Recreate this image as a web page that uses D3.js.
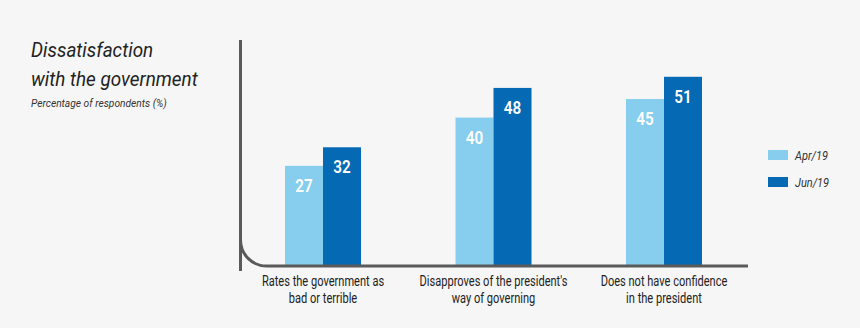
<!DOCTYPE html>
<html>
<head>
<meta charset="utf-8">
<script src="https://cdn.jsdelivr.net/npm/d3@7"></script>
<style>
  html, body { margin: 0; padding: 0; background: #f6f6f6; }
  svg { display: block; }
  text { font-family: Roboto, "DejaVu Sans", sans-serif; }
</style>
</head>
<body>
<div id="chart"></div>
<script>
// survey data
var categories = [
  ["Rates the government as", "bad or terrible"],
  ["Disapproves of the president's", "way of governing"],
  ["Does not have confidence", "in the president"]
];
var seriesNames = ["Apr/19", "Jun/19"];
var apr19 = [27, 40, 45];
var jun19 = [32, 48, 51];
var colors = ["#86cdee", "#0569b3"];

var width = 860, height = 328;
var baseY = 266;
var barW = 38;

var svg = d3.select("#chart").append("svg")
    .attr("width", width)
    .attr("height", height);

svg.append("rect").attr("width", width).attr("height", height).attr("fill", "#f6f6f6");

// narrow text: Roboto squeezed horizontally
function squeezed(parent, x, y, sx, str) {
  return parent.append("text")
      .attr("transform", "translate(" + x + "," + y + ") scale(" + sx + ",1)")
      .text(str);
}

// title block
["Dissatisfaction", "with the government"].forEach(function(t, i) {
  squeezed(svg, 31, 57 + i * 29, 0.9, t)
      .attr("font-style", "italic")
      .attr("font-size", 21)
      .attr("fill", "#222");
});
squeezed(svg, 31, 107, 0.93, "Percentage of respondents (%)")
    .attr("font-style", "italic")
    .attr("font-size", 11)
    .attr("fill", "#333");

// scales
var x = d3.scalePoint()
    .domain(d3.range(categories.length))
    .range([323, 664]);
var y = d3.scaleLinear().domain([0, 60]).range([baseY, baseY - 60 * 3.71]);

var data = categories.map(function(c, i) { return [apr19[i], jun19[i]]; });

// bars
var groups = svg.selectAll(".grp").data(data).enter().append("g")
    .attr("class", "grp")
    .attr("transform", function(d, i) { return "translate(" + x(i) + ",0)"; });

groups.selectAll("rect").data(function(d) { return d; }).enter().append("rect")
    .attr("x", function(d, j) { return (j - 1) * barW; })
    .attr("y", function(d) { return y(d); })
    .attr("width", barW)
    .attr("height", function(d) { return y(0) - y(d); })
    .attr("fill", function(d, j) { return colors[j]; });

groups.each(function(d) {
  var g = d3.select(this);
  d.forEach(function(v, j) {
    squeezed(g, (j - 0.5) * barW, y(v) + 26, 0.85, v)
        .attr("text-anchor", "middle")
        .attr("font-weight", 600)
        .attr("font-size", 18)
        .attr("fill", "#fff");
  });
});

// axis with rounded corner
var r = 26, ax = 240.5;
svg.append("path")
    .attr("d", "M" + ax + ",40 V" + (baseY - r) + " A" + r + "," + r + " 0 0 0 " + (ax + r) + "," + baseY + " H748")
    .attr("fill", "none")
    .attr("stroke", "#5a5a5a")
    .attr("stroke-width", 3);
svg.append("line")
    .attr("x1", ax).attr("x2", ax)
    .attr("y1", baseY - r).attr("y2", 271)
    .attr("stroke", "#5a5a5a")
    .attr("stroke-width", 3);

// category labels
categories.forEach(function(lines, i) {
  lines.forEach(function(line, k) {
    squeezed(svg, x(i), 286 + k * 17, 0.79, line)
        .attr("text-anchor", "middle")
        .attr("font-size", 14)
        .attr("fill", "#222");
  });
});

// legend
var legend = svg.selectAll(".leg").data(seriesNames).enter().append("g")
    .attr("class", "leg")
    .attr("transform", function(d, i) { return "translate(768," + (150 + i * 27) + ")"; });
legend.append("rect")
    .attr("width", 20).attr("height", 10)
    .attr("fill", function(d, i) { return colors[i]; });
legend.each(function(d) {
  squeezed(d3.select(this), 27, 10, 0.88, d)
      .attr("font-style", "italic")
      .attr("font-size", 12.5)
      .attr("fill", "#333");
});
</script>
</body>
</html>
